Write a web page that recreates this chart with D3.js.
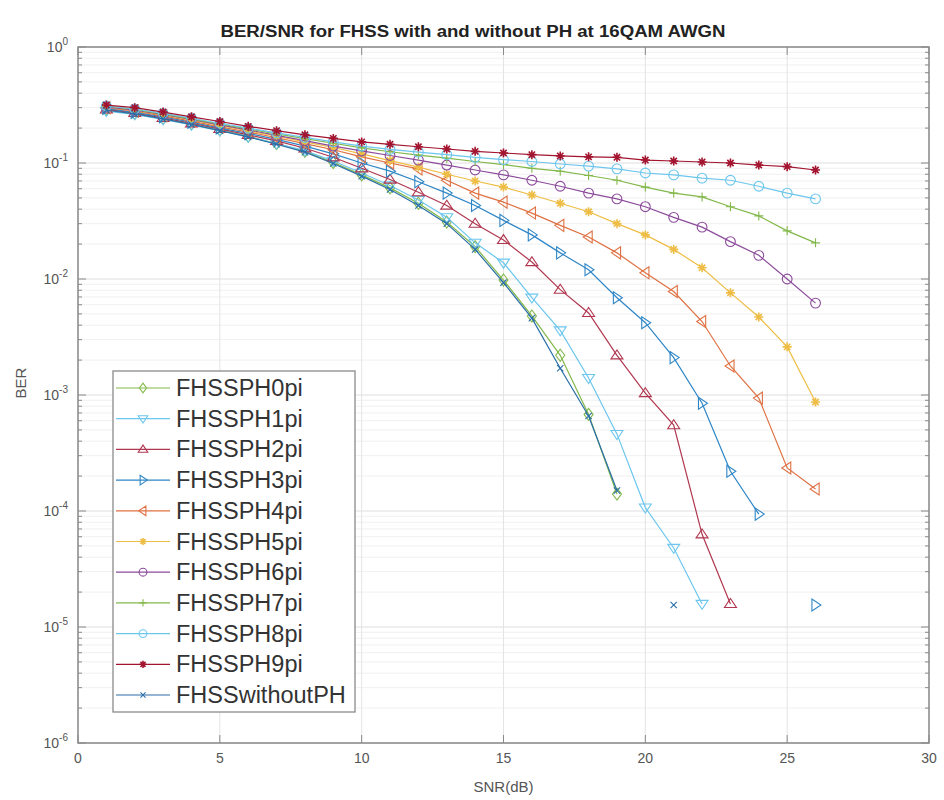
<!DOCTYPE html>
<html>
<head>
<meta charset="utf-8">
<script src="https://cdn.jsdelivr.net/npm/d3@7"></script>
<style>
  body { margin: 0; background: #fff; }
  svg { font-family: "Liberation Sans", Arial, sans-serif; }
</style>
</head>
<body>
<div id="chart"></div>
<script>
// SNR values (dB)
var snr = d3.range(1, 27);

// BER per series, index 0 = SNR 1 ... index 25 = SNR 26, null = no point
var ph0 = [0.29,0.268,0.243,0.218,0.193,0.17,0.147,0.126,0.101,0.079,0.061,0.045,0.031,0.019,0.0098,0.0048,0.0022,0.00068,0.00014,null,null,null,null,null,null,null];
var ph1 = [0.28,0.262,0.238,0.213,0.19,0.168,0.147,0.128,0.104,0.082,0.064,0.048,0.034,0.0205,0.0138,0.0069,0.0036,0.0014,0.00046,0.000107,0.000048,0.0000158,null,null,null,null];
var ph2 = [0.29,0.27,0.245,0.22,0.197,0.175,0.155,0.134,0.112,0.09,0.072,0.056,0.043,0.030,0.0217,0.014,0.0081,0.0051,0.0022,0.00104,0.00055,0.000063,0.0000158,null,null,null];
var ph3 = [0.295,0.273,0.25,0.225,0.2,0.18,0.16,0.14,0.12,0.1,0.085,0.069,0.055,0.043,0.032,0.024,0.0168,0.012,0.0069,0.0042,0.0021,0.00085,0.00022,0.000094,null,0.0000155];
var ph4 = [0.3,0.28,0.255,0.23,0.205,0.185,0.165,0.147,0.13,0.113,0.1,0.089,0.071,0.055,0.046,0.037,0.029,0.023,0.0168,0.0113,0.0078,0.0043,0.00178,0.00094,0.000235,0.000155];
var ph5 = [0.305,0.283,0.26,0.235,0.21,0.19,0.17,0.152,0.136,0.12,0.105,0.092,0.08,0.07,0.062,0.053,0.045,0.038,0.030,0.024,0.018,0.0125,0.0076,0.0047,0.0026,0.00087];
var ph6 = [0.305,0.285,0.262,0.238,0.213,0.193,0.173,0.156,0.14,0.127,0.116,0.106,0.096,0.087,0.079,0.071,0.063,0.055,0.049,0.042,0.034,0.028,0.021,0.016,0.010,0.0062];
var ph7 = [0.31,0.29,0.265,0.24,0.217,0.197,0.178,0.162,0.148,0.135,0.125,0.117,0.11,0.103,0.097,0.09,0.085,0.078,0.071,0.062,0.055,0.051,0.042,0.035,0.026,0.0205];
var ph8 = [0.31,0.292,0.268,0.243,0.22,0.2,0.182,0.166,0.152,0.14,0.131,0.124,0.118,0.112,0.107,0.103,0.098,0.094,0.089,0.082,0.079,0.074,0.071,0.063,0.055,0.049];
var ph9 = [0.316,0.30,0.275,0.25,0.228,0.207,0.19,0.175,0.163,0.152,0.145,0.138,0.132,0.126,0.122,0.118,0.115,0.113,0.112,0.106,0.104,0.102,0.10,0.096,0.093,0.087];
var noPH = [0.285,0.265,0.24,0.215,0.19,0.168,0.145,0.124,0.099,0.077,0.059,0.043,0.030,0.018,0.0093,0.0046,0.0017,0.00066,0.00015,null,0.0000155,null,null,null,null,null];

var names = ["FHSSPH0pi","FHSSPH1pi","FHSSPH2pi","FHSSPH3pi","FHSSPH4pi","FHSSPH5pi","FHSSPH6pi","FHSSPH7pi","FHSSPH8pi","FHSSPH9pi","FHSSwithoutPH"];
var values = [ph0, ph1, ph2, ph3, ph4, ph5, ph6, ph7, ph8, ph9, noPH];
var colors = ["#82b84a","#6cc6ee","#b0374f","#2f86c6","#df7142","#eebd45","#8c4b9b","#82b84a","#6cc6ee","#a2142f","#2a6fa8"];
var markers = ["diamond","down","up","right","left","star","circle","plus","circle","star","cross"];

var xTicks = [0, 5, 10, 15, 20, 25, 30];
var yExps = [0, -1, -2, -3, -4, -5, -6];

var W = 944, H = 800;
var margin = {top: 47, right: 15, bottom: 57, left: 78};
var width = W - margin.left - margin.right,
    height = H - margin.top - margin.bottom;

var x = d3.scaleLinear().domain([0, 30]).range([0, width]);
var y = d3.scaleLog().domain([1e-6, 1]).range([height, 0]);

var svg = d3.select("#chart").append("svg")
    .attr("width", W)
    .attr("height", H);

var g = svg.append("g")
    .attr("transform", "translate(" + margin.left + "," + margin.top + ")");

// minor grid (log)
var minor = [];
yExps.slice(1).forEach(function(e) {
  for (var k = 2; k <= 9; k++) minor.push(k * Math.pow(10, e));
});
g.selectAll(".ygridminor").data(minor).enter().append("line")
    .attr("x1", 0).attr("x2", width)
    .attr("y1", function(d) { return y(d); })
    .attr("y2", function(d) { return y(d); })
    .attr("stroke", "#f0f0f0").attr("stroke-width", 1);

// major grid
g.selectAll(".ygrid").data(yExps).enter().append("line")
    .attr("x1", 0).attr("x2", width)
    .attr("y1", function(d) { return y(Math.pow(10, d)); })
    .attr("y2", function(d) { return y(Math.pow(10, d)); })
    .attr("stroke", "#dedede").attr("stroke-width", 1);
g.selectAll(".xgrid").data(xTicks).enter().append("line")
    .attr("y1", 0).attr("y2", height)
    .attr("x1", function(d) { return x(d); })
    .attr("x2", function(d) { return x(d); })
    .attr("stroke", "#e4e4e4").attr("stroke-width", 1);

// marker shapes
function markerPath(type, s) {
  switch (type) {
    case "diamond": return "M0," + (-s) + "L" + (s*0.75) + ",0L0," + s + "L" + (-s*0.75) + ",0Z";
    case "down": return "M" + (-s) + "," + (-s*0.6) + "L" + s + "," + (-s*0.6) + "L0," + (s*0.9) + "Z";
    case "up": return "M" + (-s) + "," + (s*0.6) + "L" + s + "," + (s*0.6) + "L0," + (-s*0.9) + "Z";
    case "right": return "M" + (-s*0.6) + "," + (-s) + "L" + (-s*0.6) + "," + s + "L" + (s*0.9) + ",0Z";
    case "left": return "M" + (s*0.6) + "," + (-s) + "L" + (s*0.6) + "," + s + "L" + (-s*0.9) + ",0Z";
    case "plus": return "M" + (-s) + ",0L" + s + ",0M0," + (-s) + "L0," + s;
    case "cross": return "M" + (-s*0.7) + "," + (-s*0.7) + "L" + (s*0.7) + "," + (s*0.7) + "M" + (-s*0.7) + "," + (s*0.7) + "L" + (s*0.7) + "," + (-s*0.7);
    case "star":
      var a = s * 0.7;
      return "M" + (-s) + ",0L" + s + ",0M0," + (-s) + "L0," + s +
             "M" + (-a) + "," + (-a) + "L" + a + "," + a + "M" + (-a) + "," + a + "L" + a + "," + (-a);
    case "circle": return d3.symbol().type(d3.symbolCircle).size(s * s * 3)();
  }
}
function markerSize(type) {
  if (type === "circle") return 5;
  if (type === "star") return 4.5;
  if (type === "plus" || type === "cross") return 4.5;
  return 6;
}

var line = d3.line()
    .defined(function(d) { return d.v !== null; })
    .x(function(d) { return x(d.s); })
    .y(function(d) { return y(d.v); });

// draw series
names.forEach(function(name, i) {
  var pts = snr.map(function(s, j) { return {s: s, v: values[i][j]}; });
  var sg = g.append("g").attr("class", "series");
  sg.append("path")
      .datum(pts)
      .attr("fill", "none")
      .attr("stroke", colors[i])
      .attr("stroke-width", 1.2)
      .attr("d", line);
  var m = markers[i];
  sg.selectAll(".mk").data(pts.filter(function(d) { return d.v !== null; }))
    .enter().append("path")
      .attr("transform", function(d) { return "translate(" + x(d.s) + "," + y(d.v) + ")"; })
      .attr("d", markerPath(m, markerSize(m)))
      .attr("fill", (m === "star" && i === 9) ? colors[i] : "none")
      .attr("stroke", colors[i])
      .attr("stroke-width", m === "star" ? 1.6 : 1.1);
});

// axes box
var axisColor = "#8a8a8a";
g.append("rect")
    .attr("width", width).attr("height", height)
    .attr("fill", "none").attr("stroke", axisColor).attr("stroke-width", 1.5);

// x ticks (inside, bottom and top)
xTicks.forEach(function(t) {
  g.append("line").attr("x1", x(t)).attr("x2", x(t)).attr("y1", height).attr("y2", height - 8)
    .attr("stroke", axisColor);
  g.append("line").attr("x1", x(t)).attr("x2", x(t)).attr("y1", 0).attr("y2", 8)
    .attr("stroke", axisColor);
  g.append("text")
    .attr("x", x(t)).attr("y", height + 20)
    .attr("text-anchor", "middle")
    .attr("font-size", 14).attr("fill", "#555")
    .text(t);
});

// y ticks (major + minor, both sides)
yExps.forEach(function(e) {
  var yy = y(Math.pow(10, e));
  [[0, 8], [width, width - 8]].forEach(function(p) {
    g.append("line").attr("x1", p[0]).attr("x2", p[1]).attr("y1", yy).attr("y2", yy)
      .attr("stroke", axisColor);
  });
  var t = g.append("text")
    .attr("x", -10).attr("y", yy + 5)
    .attr("text-anchor", "end")
    .attr("font-size", 14).attr("fill", "#555");
  t.append("tspan").text("10");
  t.append("tspan").attr("dy", -7).attr("font-size", 10).text(e);
});
minor.forEach(function(v) {
  var yy = y(v);
  [[0, 4], [width, width - 4]].forEach(function(p) {
    g.append("line").attr("x1", p[0]).attr("x2", p[1]).attr("y1", yy).attr("y2", yy)
      .attr("stroke", axisColor);
  });
});

// labels
svg.append("text")
    .attr("x", 473).attr("y", 37)
    .attr("text-anchor", "middle")
    .attr("font-size", 16).attr("font-weight", "bold").attr("fill", "#222")
    .attr("textLength", 505).attr("lengthAdjust", "spacingAndGlyphs")
    .text("BER/SNR for FHSS with and without PH at 16QAM AWGN");
svg.append("text")
    .attr("x", margin.left + width / 2).attr("y", 792)
    .attr("text-anchor", "middle")
    .attr("font-size", 15).attr("fill", "#555")
    .text("SNR(dB)");
svg.append("text")
    .attr("transform", "translate(26," + (margin.top + height / 2 - 12) + ") rotate(-90)")
    .attr("text-anchor", "middle")
    .attr("font-size", 15).attr("fill", "#555")
    .text("BER");

// legend
var lg = svg.append("g").attr("transform", "translate(113,371)");
lg.append("rect")
    .attr("width", 242).attr("height", 341)
    .attr("fill", "#fff").attr("stroke", "#8a8a8a").attr("stroke-width", 1.3);
names.forEach(function(name, i) {
  var yy = 17 + i * 30.7;
  lg.append("line").attr("x1", 3).attr("x2", 57).attr("y1", yy).attr("y2", yy)
    .attr("stroke", colors[i]).attr("stroke-width", 1.2);
  var m = markers[i];
  lg.append("path")
    .attr("transform", "translate(30," + yy + ")")
    .attr("d", markerPath(m, markerSize(m) * 0.8))
    .attr("fill", (m === "star" && i === 9) ? colors[i] : "none")
    .attr("stroke", colors[i])
    .attr("stroke-width", m === "star" ? 1.6 : 1.1);
  lg.append("text")
    .attr("x", 63).attr("y", yy + 8)
    .attr("font-size", 23.5).attr("fill", "#333")
    .text(name);
});
</script>
</body>
</html>
